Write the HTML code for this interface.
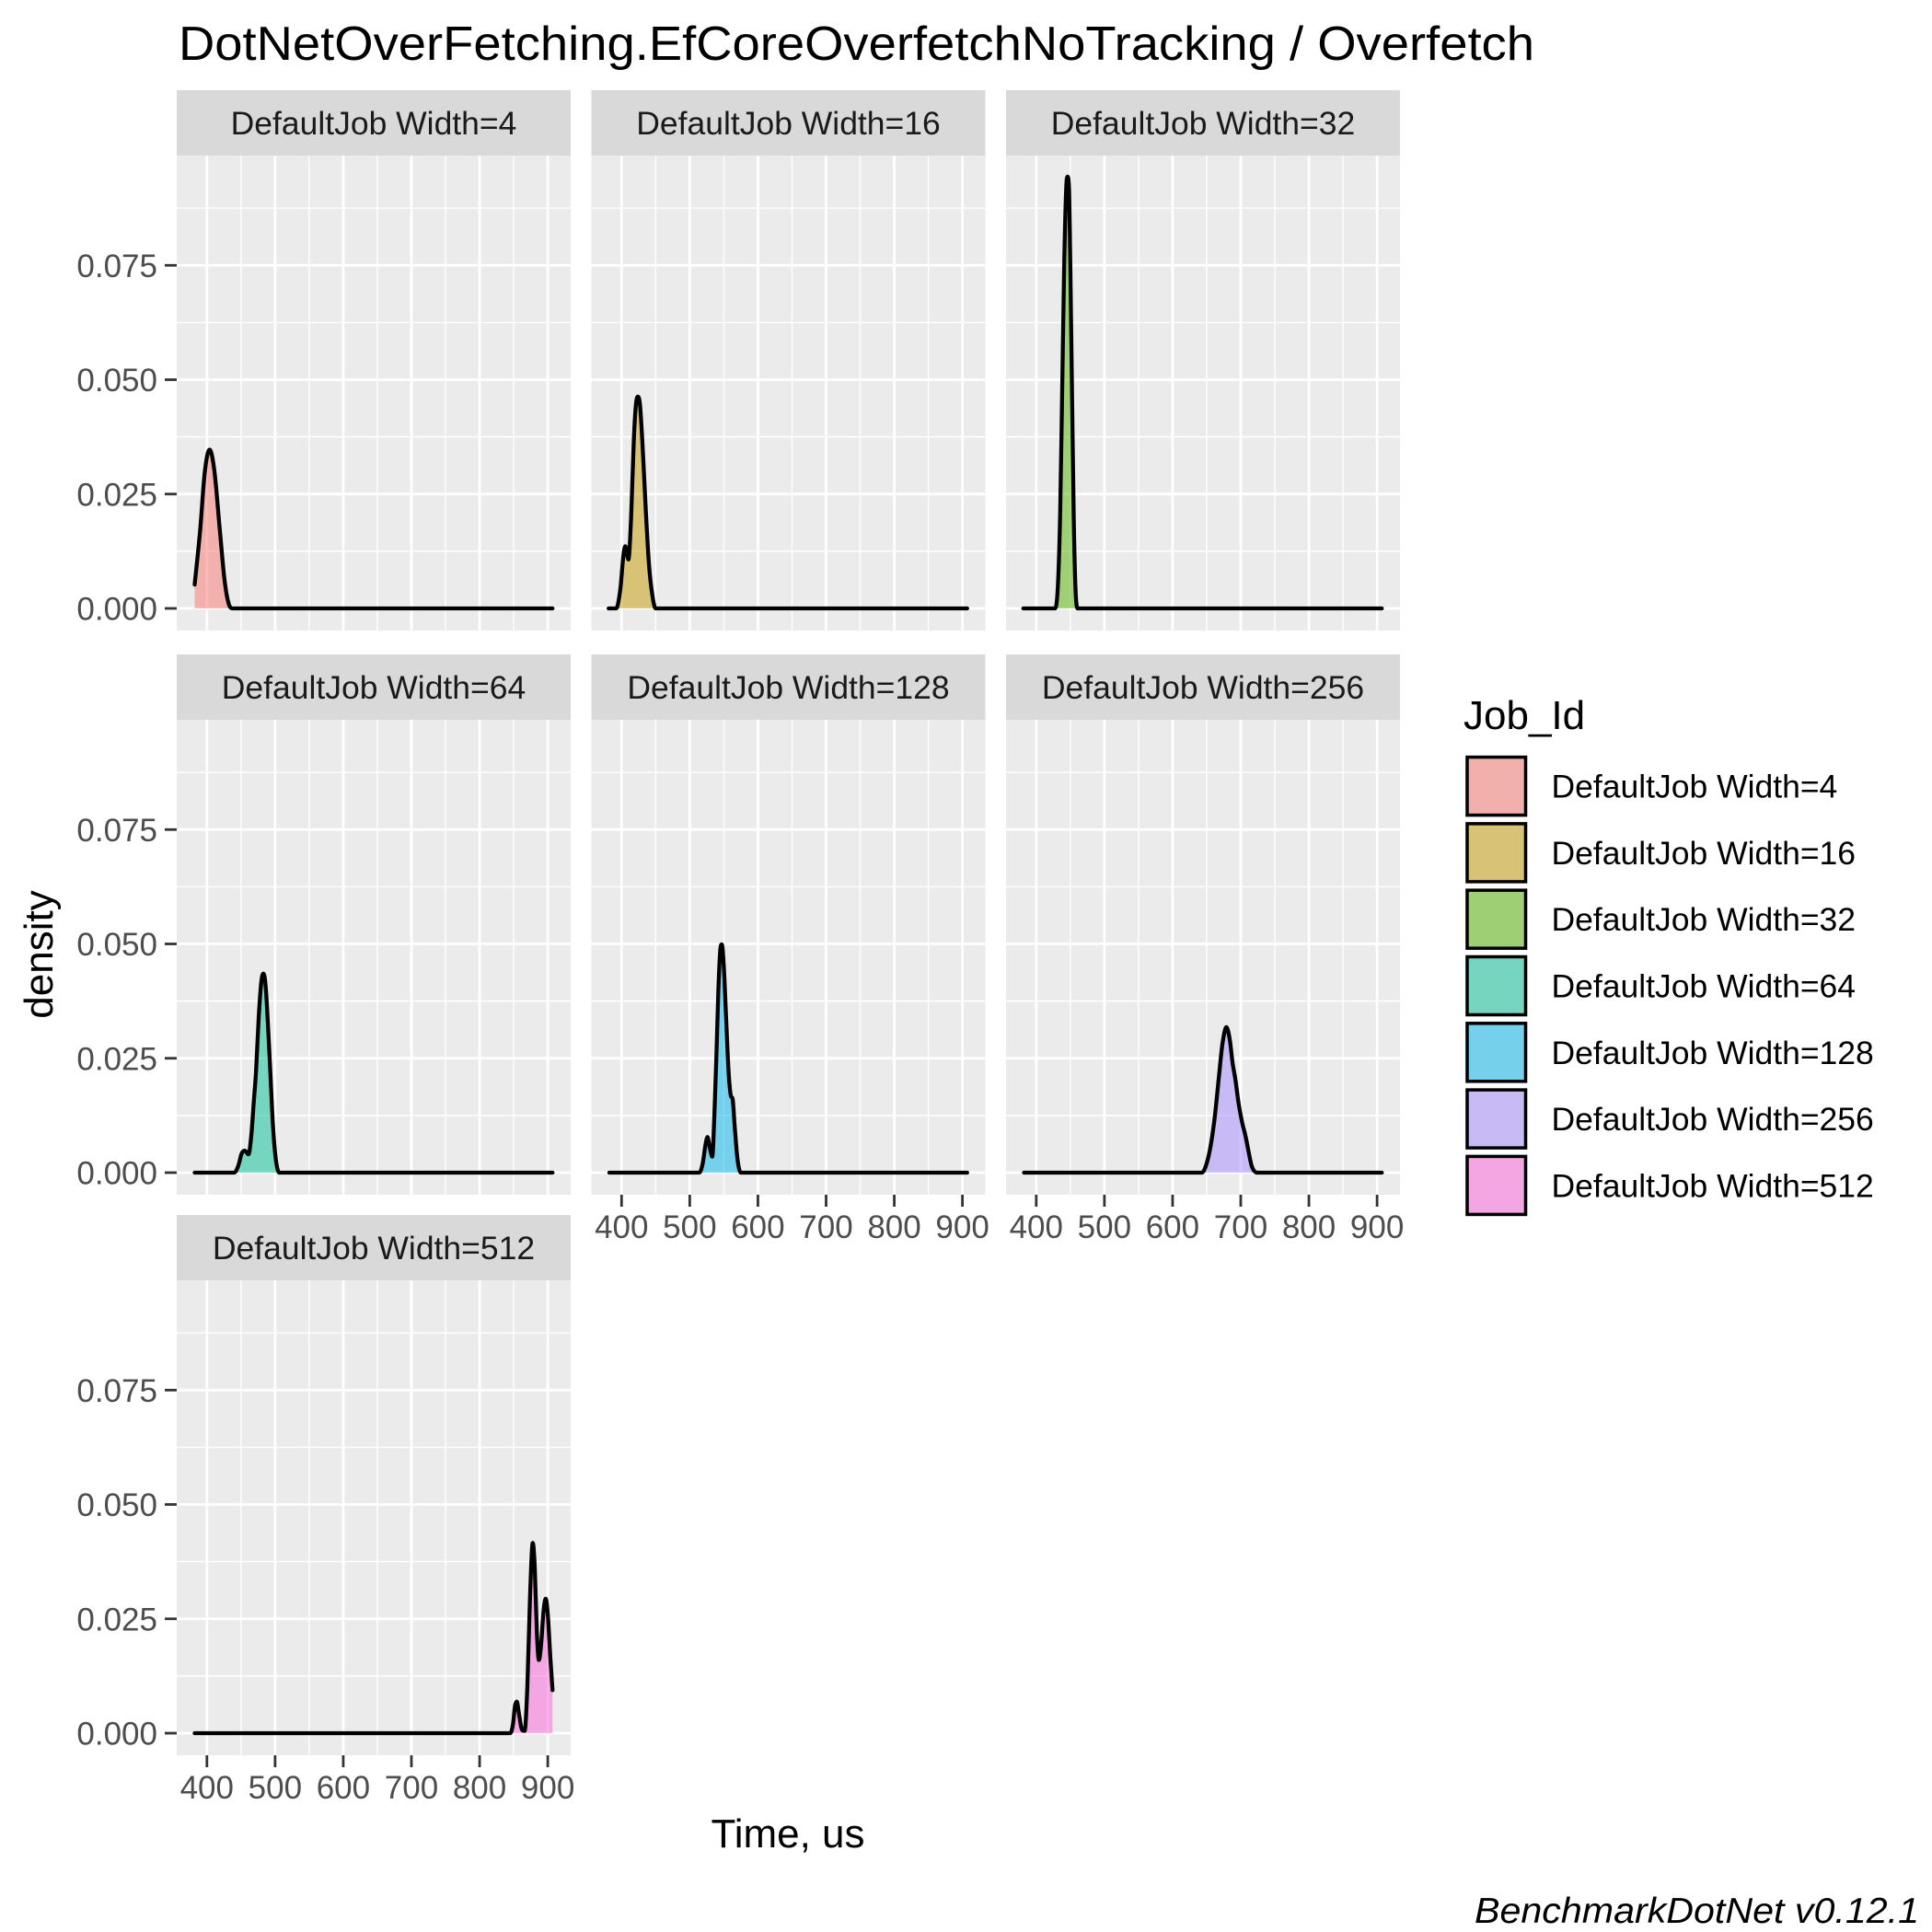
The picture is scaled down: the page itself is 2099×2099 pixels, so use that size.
<!DOCTYPE html>
<html><head><meta charset="utf-8"><style>
html,body{margin:0;padding:0;background:#fff;}
svg{display:block;font-family:"Liberation Sans",Arial,sans-serif;}
</style></head><body>
<svg id="chart" width="2099" height="2099" viewBox="0 0 2099 2099" xmlns="http://www.w3.org/2000/svg">
<text x="194" y="65" font-size="52" fill="#000" textLength="1473" lengthAdjust="spacingAndGlyphs">DotNetOverFetching.EfCoreOverfetchNoTracking / Overfetch</text>
<text transform="translate(57,1037) rotate(-90)" text-anchor="middle" font-size="44" fill="#000">density</text>
<text x="856" y="2007" text-anchor="middle" font-size="44" fill="#000">Time, us</text>
<text x="2085" y="2089" text-anchor="end" font-size="39" font-style="italic" fill="#000" textLength="483" lengthAdjust="spacingAndGlyphs">BenchmarkDotNet v0.12.1</text>
<g id="panels"></g>
<g id="legend"></g>
</svg>
<script>
const jobNames = ["DefaultJob Width=4","DefaultJob Width=16","DefaultJob Width=32","DefaultJob Width=64","DefaultJob Width=128","DefaultJob Width=256","DefaultJob Width=512"];
const jobColors = ["#F8766D","#C49A00","#53B400","#00C094","#00B6EB","#A58AFF","#FB61D7"];
const xTicks = [400,500,600,700,800,900];
const xMinor = [450,550,650,750,850];
const yTicks = [0,0.025,0.05,0.075];
const yTickLabels = ["0.000","0.025","0.050","0.075"];
const yMinor = [0.0125,0.0375,0.0625,0.0875];
const xs0 = [382,390,397,404,411,419,426,432,438,907];
const ys0 = [0.0052,0.017,0.03,0.0347,0.03,0.017,0.006,0.001,0,0];
const xs1 = [381,392,398,403,405.5,410,414,418,421,424,427,431,435,440,445,450,907];
const ys1 = [0,0,0.004,0.012,0.0136,0.0107,0.02,0.037,0.0445,0.0463,0.0445,0.035,0.023,0.01,0.003,0,0];
const xs2 = [381,427,431,435,438,441,444,446,448,450,452.5,455,458,461,907];
const ys2 = [0,0,0.003,0.02,0.047,0.075,0.092,0.0944,0.092,0.075,0.047,0.02,0.003,0,0];
const xs3 = [382,440,446,451,455.5,461,465,469,472,476,480,483,486,490,493,497,501,506,907];
const ys3 = [0,0,0.0015,0.0042,0.0048,0.004,0.008,0.016,0.022,0.034,0.042,0.0435,0.041,0.031,0.022,0.01,0.003,0,0];
const xs4 = [382,514,519,523,526,530,533,536,539,542,545,547,550,553,557,560,563,566,570,575,907];
const ys4 = [0,0,0.002,0.006,0.0078,0.005,0.0035,0.012,0.025,0.04,0.049,0.0499,0.045,0.035,0.022,0.017,0.016,0.01,0.003,0,0];
const xs5 = [382,643,650,656,662,668,673,679,684,688,692,697,702,707,711,716,724,907];
const ys5 = [0,0,0.002,0.006,0.0123,0.021,0.028,0.0318,0.029,0.024,0.0205,0.015,0.011,0.008,0.005,0.0015,0,0];
const xs6 = [382,845,849,852,854.5,858,862,866,870,874,878,881,884,887,890,894,897,900,904,907];
const ys6 = [0,0,0.002,0.006,0.0069,0.004,0.0008,0.0005,0.01,0.03,0.0416,0.036,0.022,0.016,0.019,0.027,0.0294,0.026,0.016,0.0094];
const seriesX = [xs0,xs1,xs2,xs3,xs4,xs5,xs6];
const seriesY = [ys0,ys1,ys2,ys3,ys4,ys5,ys6];

const NS="http://www.w3.org/2000/svg";
const PL=[192,642.5,1093], PW=428;
const ST=[98,711,1320], SH=71, PH=516;
const XMIN=355.7, XMAX=933.6, YMIN=-0.00483, YMAX=0.0990;
function mk(tag,attrs,parent){const e=document.createElementNS(NS,tag);for(const k in attrs)e.setAttribute(k,attrs[k]);parent.appendChild(e);return e;}
function monoPath(px,py){
  const n=px.length;const d=[],m=[];
  for(let i=0;i<n-1;i++){d.push((py[i+1]-py[i])/(px[i+1]-px[i]));}
  m[0]=d[0];m[n-1]=d[n-2];
  for(let i=1;i<n-1;i++){if(d[i-1]*d[i]<=0)m[i]=0;else{m[i]=(d[i-1]+d[i])/2;const a=m[i]/d[i-1],b=m[i]/d[i];const s=a*a+b*b;if(s>9){const t=3/Math.sqrt(s);m[i]=t*a*d[i-1];}}}
  for(let i=0;i<n-1;i++){if(d[i]===0){m[i]=0;m[i+1]=0;}}
  let p="M"+px[0].toFixed(2)+","+py[0].toFixed(2);
  for(let i=0;i<n-1;i++){const h=px[i+1]-px[i];p+=" C"+(px[i]+h/3).toFixed(2)+","+(py[i]+m[i]*h/3).toFixed(2)+" "+(px[i+1]-h/3).toFixed(2)+","+(py[i+1]-m[i+1]*h/3).toFixed(2)+" "+px[i+1].toFixed(2)+","+py[i+1].toFixed(2);}
  return p;
}
const panelsG=document.getElementById("panels");
for(let k=0;k<7;k++){
  const col=k%3,row=Math.floor(k/3);
  const L=PL[col],T=ST[row]+SH,B=T+PH;
  const sx=v=>L+(v-XMIN)/(XMAX-XMIN)*PW;
  const sy=v=>B-(v-YMIN)/(YMAX-YMIN)*PH;
  const g=mk("g",{},panelsG);
  
  
  const strip=mk("rect",{x:L,y:ST[row],width:PW,height:SH,fill:"#D9D9D9"},g);
  
  
  const st=mk("text",{x:L+PW/2,y:ST[row]+SH/2+12.5,"text-anchor":"middle","font-size":35.5,fill:"#1A1A1A"},g);
  st.textContent=jobNames[k];
  
  
  const bg=mk("rect",{x:L,y:T,width:PW,height:PH,fill:"#EBEBEB"},g);
  
  
  yMinor.forEach(v=>{const l=mk("line",{x1:L,x2:L+PW,y1:sy(v),y2:sy(v),stroke:"#fff","stroke-width":1.4},g);});
  xMinor.forEach(v=>{const l=mk("line",{x1:sx(v),x2:sx(v),y1:T,y2:B,stroke:"#fff","stroke-width":1.4},g);});
  yTicks.forEach(v=>{const l=mk("line",{x1:L,x2:L+PW,y1:sy(v),y2:sy(v),stroke:"#fff","stroke-width":2.8},g);});
  xTicks.forEach(v=>{const l=mk("line",{x1:sx(v),x2:sx(v),y1:T,y2:B,stroke:"#fff","stroke-width":2.8},g);});
  const px=seriesX[k].map(sx), py=seriesY[k].map(sy);
  const line=monoPath(px,py);
  const area=mk("path",{d:line+" L"+px[px.length-1].toFixed(2)+","+sy(0).toFixed(2)+" L"+px[0].toFixed(2)+","+sy(0).toFixed(2)+" Z",fill:jobColors[k],"fill-opacity":0.5,stroke:"none"},g);
  
  
  const ln=mk("path",{d:line,fill:"none",stroke:"#000","stroke-width":4.3,"stroke-linejoin":"round","stroke-linecap":"round"},g);
  
  
  if(col===0){
    yTicks.forEach((v,i)=>{
      const t=mk("line",{x1:L-13,x2:L,y1:sy(v),y2:sy(v),stroke:"#333","stroke-width":2.8},g);
      
      
      const tx=mk("text",{x:L-21,y:sy(v)+12.5,"text-anchor":"end","font-size":35,fill:"#4D4D4D"},g);
      tx.textContent=yTickLabels[i];
      
      
    });
  }
  if((row===1&&col>0)||row===2){
    xTicks.forEach(v=>{
      const t=mk("line",{x1:sx(v),x2:sx(v),y1:B,y2:B+13,stroke:"#333","stroke-width":2.8},g);
      
      
      const tx=mk("text",{x:sx(v),y:B+47,"text-anchor":"middle","font-size":35,fill:"#4D4D4D"},g);
      tx.textContent=String(v);
      
      
    });
  }
}
const lg=document.getElementById("legend");
const lt=mk("text",{x:1590,y:792,"font-size":44,fill:"#000"},lg);
lt.textContent="Job_Id";


jobNames.forEach((nm,i)=>{
  const y=820.6+i*72.3;
  const kb=mk("rect",{x:1592,y:y,width:67.5,height:67,fill:"#EBEBEB"},lg);
  
  
  const kr=mk("rect",{x:1594,y:y+2,width:63.5,height:63,fill:jobColors[i],"fill-opacity":0.5,stroke:"#000","stroke-width":3.5},lg);
  
  
  const tx=mk("text",{x:1685.5,y:y+33.5+12.5,"font-size":35.5,fill:"#000"},lg);
  tx.textContent=nm;
  
  
});
</script>
</body></html>
